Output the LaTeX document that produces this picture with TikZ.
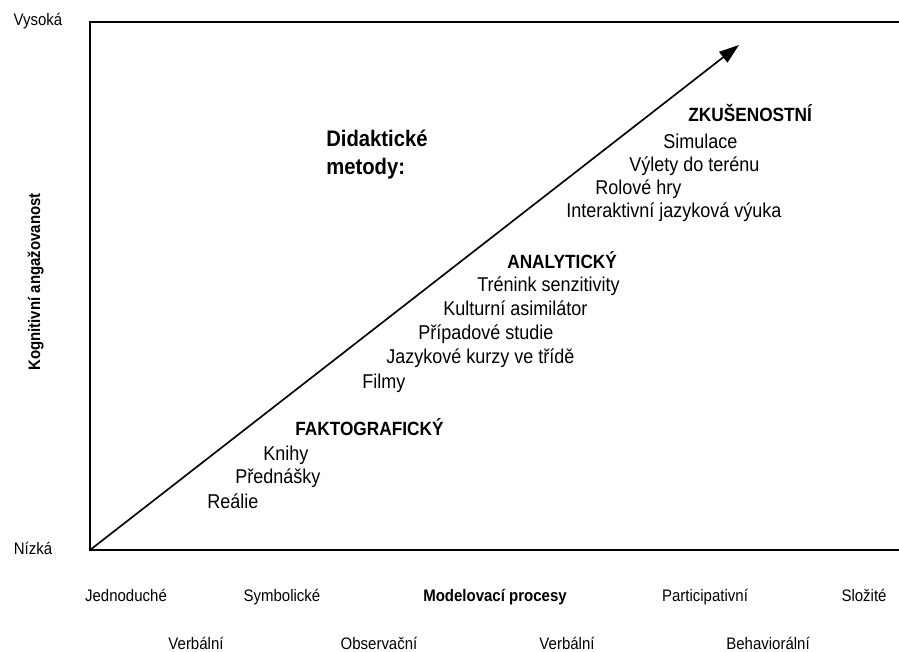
\documentclass[tikz,border=0pt]{standalone}
\usepackage{fontspec}
\setmainfont{Liberation Sans}[FakeStretch=0.9]
\usetikzlibrary{arrows.meta, positioning}

\begin{document}
\begin{tikzpicture}[
    x=0.6pt, y=-0.6pt,
    % Styles
    axislabel/.style={
        font=\fontsize{10}{12}\selectfont,
        anchor=base, inner sep=0pt
    },
    axistitle/.style={
        font=\fontsize{10}{12}\selectfont\bfseries,
        anchor=base, inner sep=0pt
    },
    heading/.style={
        font=\fontsize{11.5}{14}\selectfont\bfseries,
        anchor=base west, inner sep=0pt
    },
    method/.style={
        font=\fontsize{12}{14}\selectfont,
        anchor=base west, inner sep=0pt
    },
    frame/.style={line width=1.2pt},
    arrow/.style={
        -{Triangle[length=12pt, width=8pt]},
        line width=1pt
    },
]
\useasboundingbox (0,0) rectangle (899,652);

% Frame (open on the right)
\coordinate (origin) at (90,550);
\coordinate (topleft) at (90,22);
\coordinate (topright) at (899,22);
\coordinate (bottomright) at (899,550);
\draw[frame] (topright) -- (topleft) -- (origin) -- (bottomright);

% Main arrow
\coordinate (tip) at (739,45);
\draw[arrow] (origin) -- (tip);

% Vertical axis
\node[axislabel] (high) at (38,26) {Vysoká};
\node[axislabel] (low) at (33,554) {Nízká};
\node[axistitle, rotate=90] (ylabel) at (40,282) {Kognitivní angažovanost};

% Horizontal axis, row 1
\node[axislabel] (simple) at (126,601) {Jednoduché};
\node[axislabel] (symbolic) at (282,601) {Symbolické};
\node[axistitle] (xlabel) at (495,601) {Modelovací procesy};
\node[axislabel] (particip) at (705,601) {Participativní};
\node[axislabel] (complex) at (864,601) {Složité};

% Horizontal axis, row 2
\node[axislabel] (verbal1) at (196,649) {Verbální};
\node[axislabel] (observ) at (379,649) {Observační};
\node[axislabel] (verbal2) at (567,649) {Verbální};
\node[axislabel] (behav) at (768,649) {Behaviorální};

% Title
\node[font=\fontsize{13.5}{16.8}\selectfont\bfseries, anchor=base west,
      inner sep=0pt, align=left] (title) at (326,175) {Didaktické\\metody:};

% Experiential methods
\node[heading] (exper) at (688,122) {ZKUŠENOSTNÍ};
\node[method] (sim) at (663,149) {Simulace};
\node[method] (field) at (629,172) {Výlety do terénu};
\node[method] (role) at (595,195) {Rolové hry};
\node[method] (interact) at (566,217) {Interaktivní jazyková výuka};

% Analytical methods
\node[heading] (analyt) at (507,268) {ANALYTICKÝ};
\node[method] (sens) at (477,291) {Trénink senzitivity};
\node[method] (assim) at (443,315) {Kulturní asimilátor};
\node[method] (cases) at (418,339) {Případové studie};
\node[method] (courses) at (386,363) {Jazykové kurzy ve třídě};
\node[method] (films) at (362,388) {Filmy};

% Factual methods
\node[heading] (fact) at (295,435) {FAKTOGRAFICKÝ};
\node[method] (books) at (263,460) {Knihy};
\node[method] (lect) at (235,483) {Přednášky};
\node[method] (realia) at (207,508) {Reálie};

\end{tikzpicture}
\end{document}
